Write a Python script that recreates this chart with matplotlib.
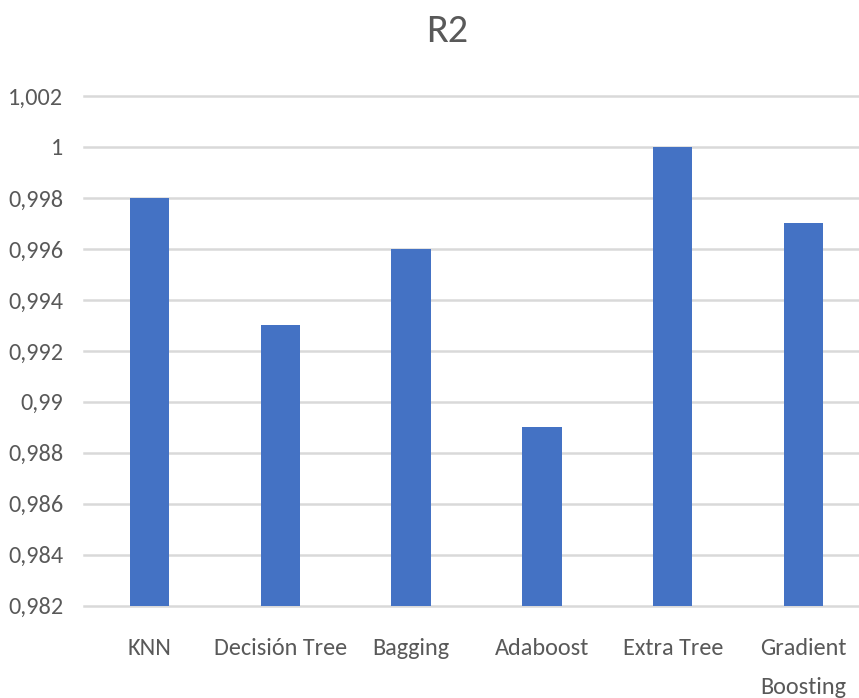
import numpy as np
import matplotlib.pyplot as plt
from matplotlib.ticker import FuncFormatter, MultipleLocator

plt.rcParams['font.family'] = ['Carlito', 'DejaVu Sans']

# 各模型的 R2 得分
modelos = ['KNN', 'Decisión Tree', 'Bagging', 'Adaboost', 'Extra Tree', 'Gradient\nBoosting']
r2 = [0.998, 0.993, 0.996, 0.989, 1.000, 0.997]

y_min, y_max, y_step = 0.982, 1.002, 0.002

gris_texto = '#595959'
gris_rejilla = '#D9D9D9'
azul = '#4472C4'

fig = plt.figure(figsize=(8.59, 6.98), dpi=100)
ax = fig.add_axes([0.0978, 0.1322, 0.9139, 0.7303])

x = np.arange(len(modelos))
ax.bar(x, np.array(r2) - y_min, bottom=y_min, width=0.3, color=azul, zorder=3)

ax.set_xlim(-0.5, len(modelos) - 0.5)
ax.set_ylim(y_min, y_max)
ax.yaxis.set_major_locator(MultipleLocator(y_step))


def formato(v, pos):
    s = f'{v:.3f}'.rstrip('0').rstrip('.')
    return s.replace('.', ',')


ax.yaxis.set_major_formatter(FuncFormatter(formato))
ax.set_xticks(x)
ax.set_xticklabels(modelos, linespacing=2.05)

ax.grid(axis='y', color=gris_rejilla, linewidth=1.8, zorder=0)
for gl in ax.get_ygridlines():
    gl.set_clip_on(False)
for s in ax.spines.values():
    s.set_visible(False)

ax.tick_params(axis='x', length=0, pad=23, labelsize=17.5, labelcolor=gris_texto)
ax.tick_params(axis='y', length=0, pad=15, labelsize=17.5, labelcolor=gris_texto)
for lbl in ax.get_xticklabels():
    lbl.set_verticalalignment('top')

fig.text(447 / 859, 1 - 42 / 698, 'R2', ha='center', va='baseline',
         fontsize=29, color=gris_texto)

fig.savefig('out.png', dpi=100)
